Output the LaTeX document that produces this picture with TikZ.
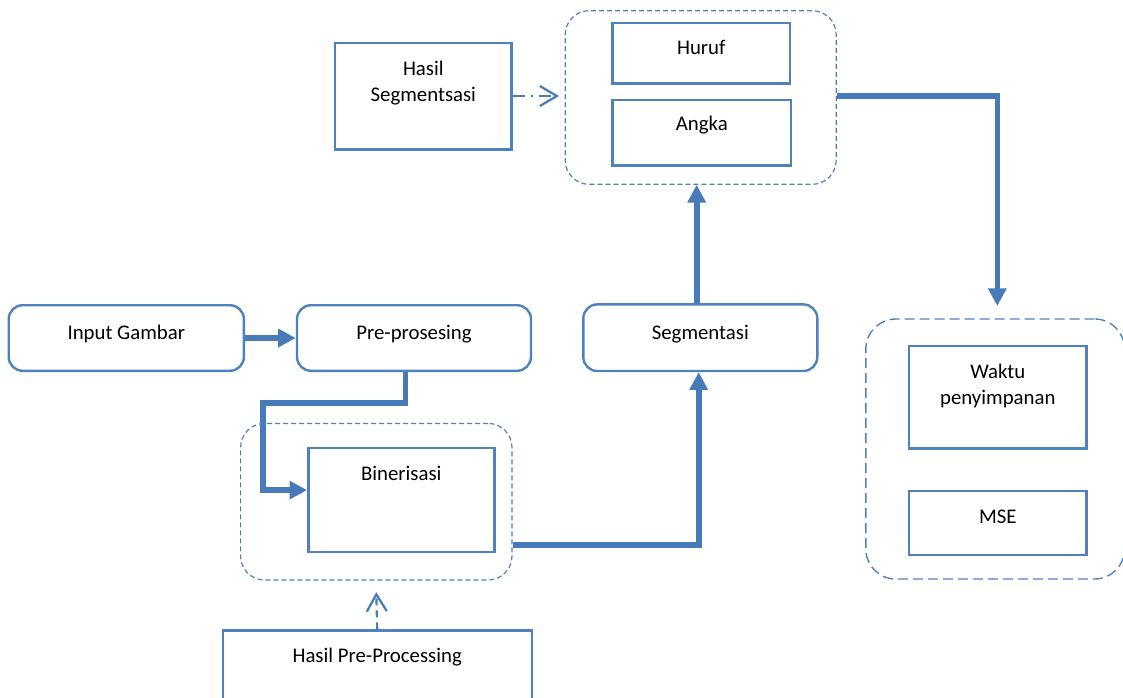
\documentclass[tikz,border=0pt]{standalone}
\usepackage{fontspec}
\setmainfont{Carlito}
\usetikzlibrary{arrows.meta}

\definecolor{boxline}{RGB}{79,129,189}
\definecolor{flowline}{RGB}{70,122,185}

\begin{document}
\begin{tikzpicture}[x=0.5pt, y=-0.5pt,
  box/.style={draw=boxline, line width=1.2pt, inner sep=0pt},
  roundbox/.style={box, rounded corners=7pt},
  group/.style={draw=boxline, line width=0.6pt, dash pattern=on 2.5pt off 1.5pt, rounded corners=12pt, inner sep=0pt},
  lbl/.style={font=\fontsize{10.4}{13}\selectfont, align=center, inner sep=0pt},
  flow/.style={draw=flowline, line width=2.8pt, -{Triangle[length=8.8pt,width=8.8pt]}},
  hint/.style={draw=flowline, line width=1.1pt, -{Straight Barb[length=8.5pt,width=10pt]}}]

  % Page frame (the picture runs past the bottom edge)
  \clip (0,0) rectangle (1123,697);

  % Main row
  \node[roundbox, minimum width=117.6pt, minimum height=32.8pt] (input) at (126.3,338) {};
  \node[roundbox, minimum width=117pt, minimum height=32.8pt] (pre) at (414,338) {};
  \node[roundbox, minimum width=117pt, minimum height=33.3pt] (seg) at (700.3,337.7) {};
  \node[lbl, anchor=base] (input-t) at (126.3,339) {Input Gambar};
  \node[lbl, anchor=base] (pre-t) at (414,339) {Pre-prosesing};
  \node[lbl, anchor=base] (seg-t) at (700.3,339) {Segmentasi};

  % Binerisasi group
  \node[group, minimum width=135.7pt, minimum height=78.3pt] (bingrp) at (376.3,501.7) {};
  \node[box, minimum width=93pt, minimum height=52pt] (bin) at (401.3,499.7) {};
  \node[lbl, anchor=base] (bin-t) at (401.3,480) {Binerisasi};

  % Pre-processing result (cut by the bottom edge)
  \node[box, minimum width=154.5pt, minimum height=44.7pt] (hasilpre) at (377.2,675.3) {};
  \node[lbl, anchor=base] (hasilpre-t) at (377.2,662) {Hasil Pre-Processing};

  % Segmentation result and output classes
  \node[box, minimum width=88.3pt, minimum height=53.3pt] (hasilseg) at (423.3,96) {};
  \node[lbl] (hasilseg-t) at (423.3,83) {Hasil\\Segmentsasi};
  \node[group, minimum width=135.5pt, minimum height=86.8pt] (topgrp) at (700.7,97.5) {};
  \node[box, minimum width=88.7pt, minimum height=30.3pt] (huruf) at (701.3,53) {};
  \node[box, minimum width=89.2pt, minimum height=32.8pt] (angka) at (701.8,132.8) {};
  \node[lbl, anchor=base] (huruf-t) at (701.3,54) {Huruf};
  \node[lbl, anchor=base] (angka-t) at (701.8,130.7) {Angka};

  % Evaluation group (right side touches the page edge)
  \node[group, line width=0.7pt, dash pattern=on 5pt off 2.5pt, rounded corners=15pt,
        minimum width=129.4pt, minimum height=130pt] (evalgrp) at (995.2,449) {};
  \node[box, minimum width=88.8pt, minimum height=51.3pt] (waktu) at (997.8,397) {};
  \node[box, minimum width=88.8pt, minimum height=32pt] (mse) at (997.8,523) {};
  \node[lbl] (waktu-t) at (997.8,386) {Waktu\\penyimpanan};
  \node[lbl, anchor=base] (mse-t) at (997.8,523.3) {MSE};
  \coordinate (evalin) at (997.3,306);

  % Flow arrows
  \draw[flow] (input.east) -- (pre.west);
  \draw[flow] ([xshift=-4.2pt]pre.south) |- (263,403) |- ([yshift=4.8pt]bin.west);
  \draw[flow] ([yshift=-21.5pt]bingrp.east) -| ([xshift=-0.8pt]seg.south);
  \draw[flow] ([xshift=-1.8pt]seg.north) -- ([xshift=-2pt]topgrp.south);
  \draw[flow] ([yshift=0.7pt]topgrp.east) -| (evalin);

  % Data hints
  \draw[hint, dash pattern=on 3.5pt off 2.5pt] (hasilpre.north) -- ([yshift=-5.8pt]bingrp.south);
  \draw[hint, dash pattern=on 6pt off 3pt on 1pt off 3pt] (hasilseg.east) -- ([xshift=-2.8pt]hasilseg.east -| topgrp.west);
\end{tikzpicture}
\end{document}
